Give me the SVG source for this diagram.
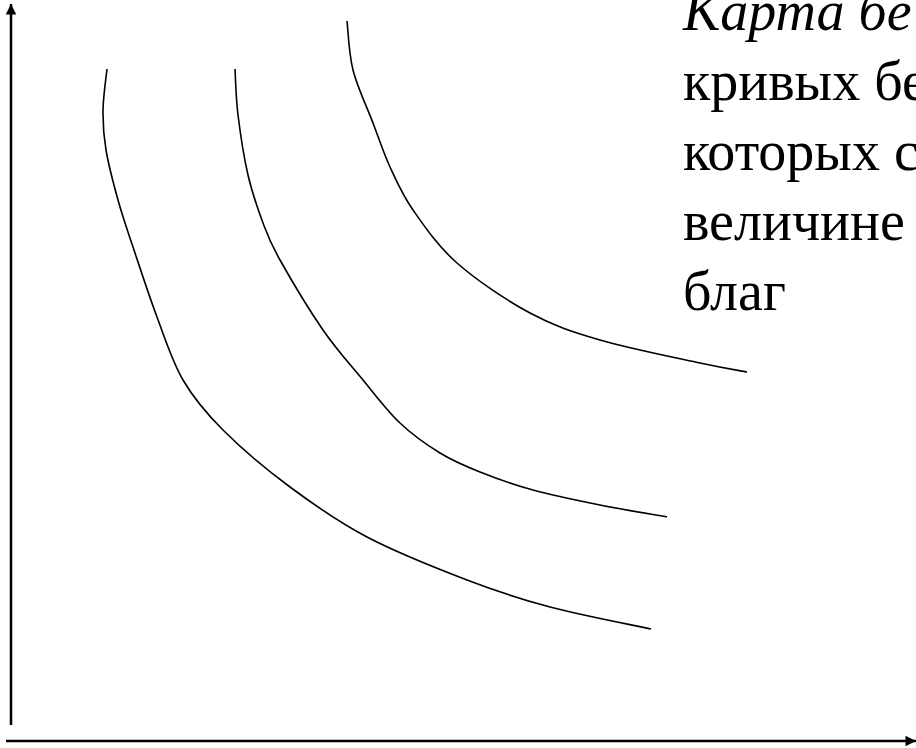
<svg xmlns="http://www.w3.org/2000/svg" width="916" height="748" viewBox="0 0 916 748">
<style>
.curve{fill:none;stroke:#000;stroke-width:1.6}
.axis{fill:none;stroke:#000;stroke-width:2.5}
.txt{font-family:"Liberation Serif","Times New Roman",serif;font-size:56px;fill:#000}
</style>
<defs>
<marker id="arr" viewBox="0 0 10 10" refX="10" refY="5" markerWidth="4.8" markerHeight="4.2" orient="auto" markerUnits="strokeWidth">
<path d="M0,0 L10,5 L0,10 Z" fill="#000"/>
</marker>
</defs>
<rect width="916" height="748" fill="#fff"/>
<g id="connectors">
<line class="axis" x1="11" y1="725" x2="11" y2="4" marker-end="url(#arr)"/>
<line class="axis" x1="6" y1="741" x2="916" y2="741" marker-end="url(#arr)"/>
</g>
<g id="curve-1">
<path class="curve" d="M107,69 C106.3,75.8 103.2,96.5 103,110 C102.8,123.5 103.5,135 106,150 C108.5,165 113.5,183.8 118,200 C122.5,216.2 126.5,227.5 133,247 C139.5,266.5 148.7,294.8 157,317 C165.3,339.2 172,361.2 183,380 C194,398.8 205.2,412.2 223,430 C240.8,447.8 266,469.2 290,487 C314,504.8 337.5,521.5 367,537 C396.5,552.5 436.5,568.3 467,580 C497.5,591.7 519.3,598.8 550,607 C580.7,615.2 634.2,625.3 651,629"/>
</g>
<g id="curve-2">
<path class="curve" d="M235,69 C235.5,76.7 235.8,97.3 238,115 C240.2,132.7 243.8,157 248,175 C252.2,193 257.7,208.8 263,223 C268.3,237.2 270,242.2 280,260 C290,277.8 309.2,310 323,330 C336.8,350 350.2,364.5 363,380 C375.8,395.5 387.2,410.8 400,423 C412.8,435.2 426.7,444.8 440,453 C453.3,461.2 464.5,465.8 480,472 C495.5,478.2 513,484.5 533,490 C553,495.5 577.7,500.5 600,505 C622.3,509.5 655.8,515 667,517"/>
</g>
<g id="curve-3">
<path class="curve" d="M347,21 C348,29.2 348.7,53 353,70 C357.3,87 366.8,106.8 373,123 C379.2,139.2 383.3,152.5 390,167 C396.7,181.5 401.8,194 413,210 C424.2,226 437.5,245.8 457,263 C476.5,280.2 506.2,300.2 530,313 C553.8,325.8 571.7,331.7 600,340 C628.3,348.3 675.5,357.7 700,363 C724.5,368.3 739.2,370.5 747,372"/>
</g>
<g id="text">
<text class="txt" x="683" y="30" font-style="italic">Карта бе</text>
<text class="txt" x="683" y="100">кривых бе</text>
<text class="txt" x="683" y="170">которых с</text>
<text class="txt" x="683" y="240">величине</text>
<text class="txt" x="683" y="310">благ</text>
</g>
</svg>
